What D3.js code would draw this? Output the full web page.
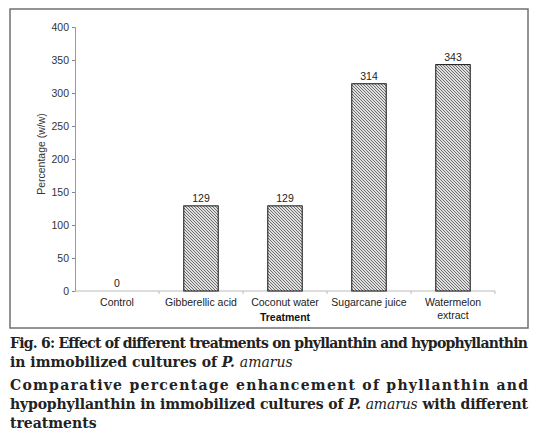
<!DOCTYPE html>
<html><head><meta charset="utf-8">
<script src="https://cdn.jsdelivr.net/npm/d3@7"></script>
<style>
html,body{margin:0;padding:0;background:#fff;}
svg{display:block;}
</style></head>
<body>
<svg id="chart" width="536" height="446"></svg>
<script>
const categories = ["Control", "Gibberellic acid", "Coconut water", "Sugarcane juice", "Watermelon extract"];
const values = [0, 129, 129, 314, 343];
const yTicks = [0, 50, 100, 150, 200, 250, 300, 350, 400];
const captionLines = [
  {parts:[["Fig. 6: Effect of different treatments on phyllanthin and hypophyllanthin", 0]], justify:true},
  {parts:[["in immobilized cultures of ", 0], ["P. ", 1], ["amarus", 2]], justify:false},
  {parts:[["Comparative percentage enhancement of phyllanthin and", 0]], justify:true},
  {parts:[["hypophyllanthin in immobilized cultures of ", 0], ["P. ", 1], ["amarus", 2], [" with different", 0]], justify:true},
  {parts:[["treatments", 0]], justify:false}
];

const svg = d3.select("#chart");
const defs = svg.append("defs");
const pat = defs.append("pattern").attr("id","hatch").attr("patternUnits","userSpaceOnUse")
  .attr("width",3).attr("height",3);
pat.append("rect").attr("width",3).attr("height",3).attr("fill","#e0e0e0");
pat.append("path").attr("d","M-1,-1 L4,4 M-1,2 L1,4 M2,-1 L4,1").attr("stroke","#5a5a5a").attr("stroke-width",0.85);

// outer frame
svg.append("rect").attr("x",10).attr("y",9).attr("width",518).attr("height",319)
  .attr("fill","none").attr("stroke","#707070").attr("stroke-width",1.5);

const mL = 75, mR = 495, mT = 27, mB = 291;
const x = d3.scaleBand().domain(categories).range([mL, mR]).paddingInner(0).paddingOuter(0);
const y = d3.scaleLinear().domain([0, 400]).range([mB, mT]);

const font = "'Liberation Sans', Arial, sans-serif";

// y axis
const yAxis = svg.append("g").attr("transform",`translate(${mL},0)`)
  .call(d3.axisLeft(y).tickValues(yTicks).tickSize(3).tickPadding(3));
yAxis.select(".domain").attr("stroke","#999");
yAxis.selectAll(".tick line").attr("stroke","#888");
yAxis.selectAll("text").attr("font-family",font).attr("font-size",10.5).attr("fill","#333");

// x axis
const xAxis = svg.append("g").attr("transform",`translate(0,${mB})`);
xAxis.append("line").attr("x1",mL).attr("x2",mR).attr("y1",0).attr("y2",0).attr("stroke","#bbb");
xAxis.selectAll("line.tk").data(categories.slice(1)).enter().append("line").attr("class","tk")
  .attr("x1",d=>x(d)).attr("x2",d=>x(d)).attr("y1",0).attr("y2",3).attr("stroke","#bbb");
xAxis.append("line").attr("x1",mR).attr("x2",mR).attr("y1",0).attr("y2",3).attr("stroke","#bbb");

const labels = svg.append("g");
categories.forEach(c=>{
  const words = c === "Watermelon extract" ? ["Watermelon","extract"] : [c];
  const t = labels.append("text").attr("x", x(c)+x.bandwidth()/2).attr("y", 306)
    .attr("text-anchor","middle").attr("font-family",font).attr("font-size",10.5).attr("fill","#222");
  words.forEach((w,i)=>t.append("tspan").attr("x", x(c)+x.bandwidth()/2).attr("dy", i===0?0:12.5).text(w));
});

svg.append("text").attr("x",(mL+mR)/2).attr("y",321).attr("text-anchor","middle")
  .attr("font-family",font).attr("font-size",10.5).attr("font-weight","bold").attr("fill","#111").text("Treatment");

svg.append("text").attr("transform",`translate(45,${(mT+mB)/2 - 5}) rotate(-90)`)
  .attr("text-anchor","middle").attr("font-family",font).attr("font-size",10.5).attr("fill","#333")
  .text("Percentage (w/w)");

// bars
const data = categories.map((c,i)=>({c, v: values[i]}));
const bw = x.bandwidth()*0.41;
svg.append("g").selectAll("rect").data(data.filter(d=>d.v>0)).enter().append("rect")
  .attr("x",d=>x(d.c)+x.bandwidth()/2-bw/2)
  .attr("y",d=>y(d.v)).attr("width",bw).attr("height",d=>y(0)-y(d.v))
  .attr("fill","url(#hatch)").attr("stroke","#111").attr("stroke-width",1);

svg.append("g").selectAll("text").data(data).enter().append("text")
  .attr("x",d=>x(d.c)+x.bandwidth()/2).attr("y",d=>y(d.v)-4)
  .attr("text-anchor","middle").attr("font-family",font).attr("font-size",10.5).attr("fill","#222")
  .text(d=>d.v);

// caption
const capFont = "'DejaVu Serif', 'Liberation Serif', serif";
const capY = [348, 367, 390, 409, 428];
captionLines.forEach((ln,i)=>{
  const t = svg.append("text").attr("x",10).attr("y",capY[i])
    .attr("font-family",capFont).attr("font-size",14).attr("font-weight","bold").attr("fill","#222");
  ln.parts.forEach(p=>{
    const s = t.append("tspan").text(p[0]);
    if (p[1] === 1) s.attr("font-style","italic");
    if (p[1] === 2) s.attr("font-style","italic").attr("font-weight","normal");
  });
  if (ln.justify) t.attr("textLength",518).attr("lengthAdjust","spacing");
});
</script>
</body></html>
